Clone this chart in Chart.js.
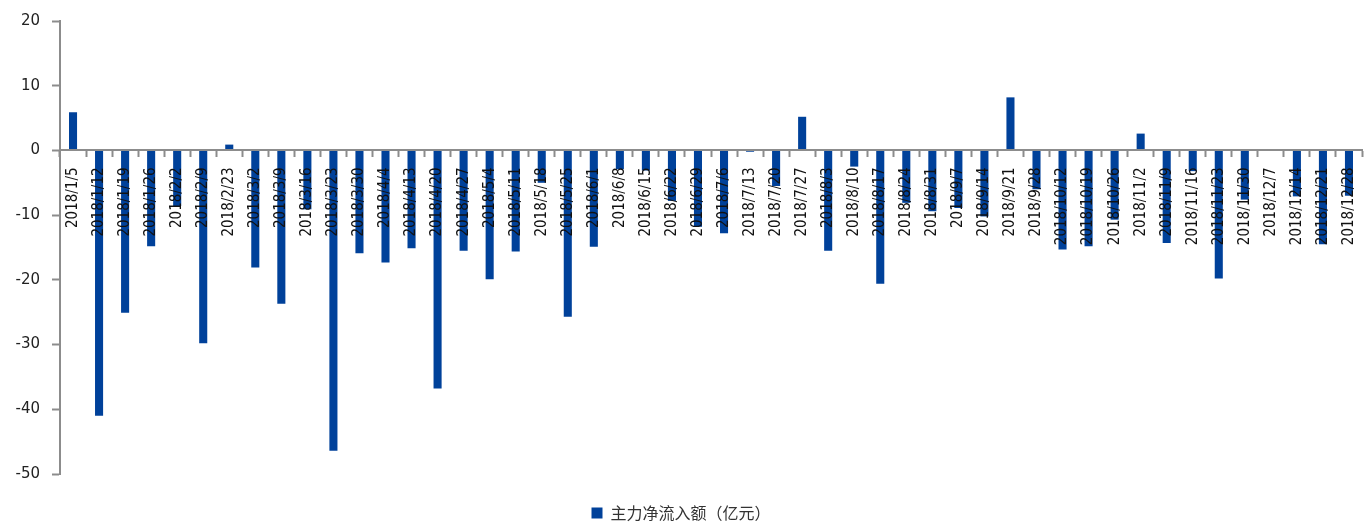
<!DOCTYPE html>
<html>
<head>
<meta charset="utf-8">
<script src="https://cdn.jsdelivr.net/npm/chart.js@4.4.1/dist/chart.umd.min.js"></script>
<style>
  html, body { margin:0; padding:0; background:#fff; }
  #wrap { width:1370px; height:522px; position:relative; }
</style>
</head>
<body>
<div id="wrap"><canvas id="flow-chart"></canvas></div>
<script>
// weekly dates
const weeks = [
  '2018/1/5','2018/1/12','2018/1/19','2018/1/26','2018/2/2','2018/2/9','2018/2/23',
  '2018/3/2','2018/3/9','2018/3/16','2018/3/23','2018/3/30','2018/4/4','2018/4/13',
  '2018/4/20','2018/4/27','2018/5/4','2018/5/11','2018/5/18','2018/5/25','2018/6/1',
  '2018/6/8','2018/6/15','2018/6/22','2018/6/29','2018/7/6','2018/7/13','2018/7/20',
  '2018/7/27','2018/8/3','2018/8/10','2018/8/17','2018/8/24','2018/8/31','2018/9/7',
  '2018/9/14','2018/9/21','2018/9/28','2018/10/12','2018/10/19','2018/10/26','2018/11/2',
  '2018/11/9','2018/11/16','2018/11/23','2018/11/30','2018/12/7','2018/12/14','2018/12/21',
  '2018/12/28'
];
// main-force net inflow, 100m yuan
const netInflow = [
  5.9, -41.0, -25.1, -14.8, -8.6, -29.8, 0.9,
  -18.1, -23.7, -9.1, -46.4, -15.9, -17.3, -15.1,
  -36.8, -15.5, -19.9, -15.6, -5.0, -25.7, -14.9,
  -2.9, -3.1, -7.8, -11.8, -12.8, -0.2, -5.5,
  5.2, -15.5, -2.5, -20.6, -8.1, -9.4, -8.9,
  -10.2, 8.2, -6.0, -15.3, -14.8, -10.7, 2.6,
  -14.3, -3.2, -19.8, -7.6, 0, -7.1, -14.5,
  -7.0
];
const seriesName = '主力净流入额（亿元）';
const yTicks = [20, 10, 0, -10, -20, -30, -40, -50];

const axisGrey = '#8c8c8c';
const barBlue = '#00419a';

const ctx = document.getElementById('flow-chart').getContext('2d');
new Chart(ctx, {
  type: 'bar',
  data: {
    labels: weeks,
    datasets: [{
      label: seriesName,
      data: netInflow,
      backgroundColor: barBlue,
      borderWidth: 0,
      categoryPercentage: 1,
      barPercentage: 0.31
    }]
  },
  options: {
    responsive: true,
    maintainAspectRatio: false,
    animation: false,
    layout: { padding: { top: 18, right: 8, left: 0, bottom: -9 } },
    scales: {
      x: {
        position: { y: 0 },
        offset: true,
        afterFit: s => { s.paddingRight = 0; s.paddingLeft = 0; },
        grid: {
          display: true, offset: true, drawOnChartArea: false,
          tickLength: 6, tickColor: axisGrey, tickWidth: 2
        },
        border: { display: true, color: axisGrey, width: 2, z: 1 },
        ticks: {
          z: 1,
          autoSkip: false, minRotation: 90, maxRotation: 90,
          padding: 11, color: '#111',
          font: { family: "'Liberation Sans Narrow', 'DejaVu Sans Condensed', sans-serif", size: 15 }
        }
      },
      y: {
        min: -50, max: 20,
        afterFit: s => { s.width = 60; },
        afterBuildTicks: s => { s.ticks = yTicks.map(v => ({ value: v })); },
        grid: {
          display: true, drawOnChartArea: false,
          tickLength: 8, tickColor: axisGrey, tickWidth: 2
        },
        border: { display: true, color: axisGrey, width: 2 },
        ticks: {
          padding: 12, color: '#222',
          font: { family: "'DejaVu Sans', Verdana, sans-serif", size: 15 }
        }
      }
    },
    plugins: {
      legend: {
        position: 'bottom',
        labels: {
          boxWidth: 11, boxHeight: 11, padding: 31, color: '#333',
          font: { family: "'Noto Sans CJK SC', sans-serif", size: 16 }
        }
      },
      tooltip: { enabled: false }
    }
  }
});
</script>
</body>
</html>
